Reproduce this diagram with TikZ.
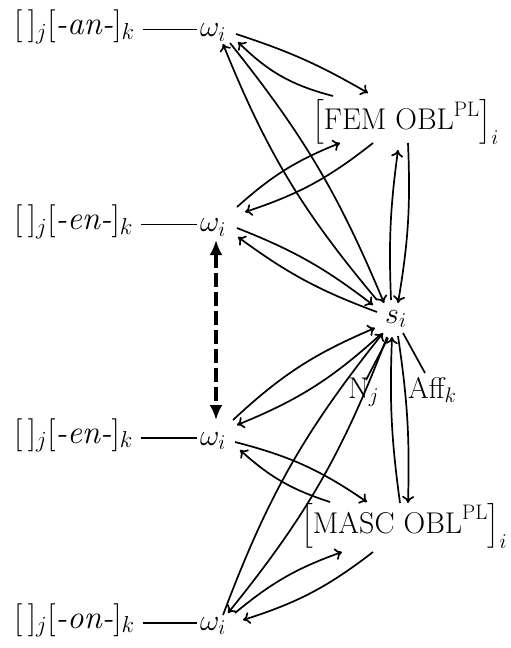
\RequirePackage{fix-cm}
\documentclass[tikz,border=0pt]{standalone}
\usepackage{amsmath}
\usetikzlibrary{arrows.meta}

\begin{document}
\begin{tikzpicture}[x=1pt,y=-1pt,
  every node/.style={inner sep=0pt, anchor=base west, font=\fontsize{30}{36}\selectfont},
  stem/.style={font=\fontsize{33}{40}\selectfont},
  arr/.style={-{To[length=7pt,width=12pt]}, line width=1.7pt},
  plain/.style={line width=1.7pt},
  dasharr/.style={{Latex[length=15pt,width=13pt]}-{Latex[length=15pt,width=13pt]},
                  line width=3.8pt, dash pattern=on 14pt off 5pt}]
\useasboundingbox (0,0) rectangle (511,648);

% left-hand stems
\node[stem] (l1) at (14,34.5)  {$[\,]_j[\textit{-an-}]_k$};
\node[stem] (l2) at (14,229.5) {$[\,]_j[\textit{-en-}]_k$};
\node[stem] (l3) at (14,443)   {$[\,]_j[\textit{-en-}]_k$};
\node[stem] (l4) at (14,628)   {$[\,]_j[\textit{-on-}]_k$};

% word-form nodes
\node (w1) at (200,36.5)  {$\omega_i$};
\node (w2) at (200,231.5) {$\omega_i$};
\node (w3) at (200,445)   {$\omega_i$};
\node (w4) at (200,630)   {$\omega_i$};

% feature and stem nodes
\node (fem)  at (312,129) {$\left[\text{FEM OBL}^{\text{PL}}\right]_i$};
\node (masc) at (301,533) {$\left[\text{MASC OBL}^{\text{PL}}\right]_i$};
\node (s)    at (385,323) {$s_i$};
\node (nj)   at (348,398) {$\text{N}_j$};
\node (aff)  at (408,398) {$\text{Aff}_k$};

% stem -- word links
\foreach \r in {1,2,3,4}
  \draw[plain] ([shift={(8,-5)}]l\r.base east) -- ([shift={(-3,-7)}]w\r.base west);

% row 1
\draw[arr] ([shift={(36,-2.5)}]w1.base west) to[bend left=6]  ([shift={(56,-36)}]fem.base west);
\draw[arr] ([shift={(21,-33)}]fem.base west)  to[bend left=15] ([shift={(38,5.5)}]w1.base west);
\draw[arr] ([shift={(30,6.5)}]w1.base west)  to[bend left=8]  ([shift={(-1,-20)}]s.base west);
\draw[arr] ([shift={(-8,-23)}]s.base west)   to[bend left=9]  ([shift={(23,7.5)}]w1.base west);

% feminine feature and stem
\draw[arr] ([shift={(96,14)}]fem.base west) to[bend left=6] ([shift={(13,-20)}]s.base west);
\draw[arr] ([shift={(6,-23)}]s.base west)   to[bend left=5] ([shift={(86,21)}]fem.base west);

% row 2
\draw[arr] ([shift={(37,-24.5)}]w2.base west) to[bend left=10] ([shift={(28,14)}]fem.base west);
\draw[arr] ([shift={(61,14)}]fem.base west)   to[bend left=10] ([shift={(45,-19.5)}]w2.base west);
\draw[arr] ([shift={(37,-3.5)}]w2.base west)  to[bend left=8]  ([shift={(-12,-18)}]s.base west);
\draw[arr] ([shift={(-8,-11)}]s.base west)    to[bend left=8]  ([shift={(38,5.5)}]w2.base west);

% shared-form link
\draw[dasharr] ([shift={(16,8.5)}]w2.base west) -- ([shift={(16,-25)}]w3.base west);

% row 3
\draw[arr] ([shift={(33,-25)}]w3.base west) to[bend left=10] ([shift={(-10,5)}]s.base west);
\draw[arr] ([shift={(-5,12)}]s.base west)   to[bend left=10] ([shift={(37,-20)}]w3.base west);
\draw[arr] ([shift={(35,-3)}]w3.base west)  to[bend left=10] ([shift={(66,-31)}]masc.base west);
\draw[arr] ([shift={(29,-31)}]masc.base west) to[bend left=12] ([shift={(40,5)}]w3.base west);

% row 4
\draw[arr] ([shift={(23,-15)}]w4.base west) to[bend left=9] ([shift={(-2,10)}]s.base west);
\draw[arr] ([shift={(2,14)}]s.base west)    to[bend left=9] ([shift={(28,-17)}]w4.base west);
\draw[arr] ([shift={(35,-17)}]w4.base west) to[bend left=10] ([shift={(41,19)}]masc.base west);
\draw[arr] ([shift={(72,19)}]masc.base west) to[bend left=10] ([shift={(43,-10)}]w4.base west);

% masculine feature and stem
\draw[arr] ([shift={(99,-30)}]masc.base west) to[bend left=5] ([shift={(7,14)}]s.base west);
\draw[arr] ([shift={(13,13)}]s.base west)     to[bend left=5] ([shift={(107,-30)}]masc.base west);

% stem parts
\draw[plain] ([shift={(18,10)}]s.base west) -- ([shift={(17,-25)}]aff.base west);
\draw[plain] ([shift={(3,15)}]s.base west)  -- ([shift={(18,-18)}]nj.base west);
\end{tikzpicture}
\end{document}
